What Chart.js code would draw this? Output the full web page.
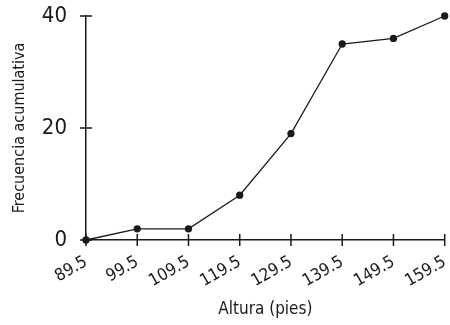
<!DOCTYPE html>
<html>
<head>
<meta charset="utf-8">
<script src="https://cdn.jsdelivr.net/npm/chart.js@4/dist/chart.umd.min.js"></script>
<style>
  html, body { margin: 0; padding: 0; background: #fff; }
  #wrap { width: 450px; height: 325px; }
</style>
</head>
<body>
<div id="wrap"><canvas id="c" width="450" height="325"></canvas></div>
<script>
const classBoundaries = [89.5, 99.5, 109.5, 119.5, 129.5, 139.5, 149.5, 159.5];
const cumulativeFrequency = [0, 2, 2, 8, 19, 35, 36, 40];
const yTickValues = [0, 20, 40];

const FONT = '"Liberation Sans Narrow", "DejaVu Sans Condensed", "Roboto", sans-serif';
const INK = '#1a1a1a';

const crossTicks = {
  id: 'crossTicks',
  afterDraw(chart) {
    const ctx = chart.ctx;
    const xs = chart.scales.x, ys = chart.scales.y;
    const L = 6;
    ctx.save();
    ctx.strokeStyle = INK;
    ctx.lineWidth = 1.5;
    ctx.beginPath();
    classBoundaries.forEach(v => {
      const px = xs.getPixelForValue(v);
      ctx.moveTo(px, ys.bottom - L);
      ctx.lineTo(px, ys.bottom + L);
    });
    yTickValues.forEach(v => {
      const py = ys.getPixelForValue(v);
      ctx.moveTo(xs.left - L, py);
      ctx.lineTo(xs.left + L, py);
    });
    ctx.stroke();
    ctx.restore();
  }
};

function noPad(s) { s.paddingTop = 0; s.paddingBottom = 0; s.paddingLeft = 0; s.paddingRight = 0; }

new Chart(document.getElementById('c'), {
  type: 'line',
  data: {
    datasets: [{
      data: classBoundaries.map((x, i) => ({ x: x, y: cumulativeFrequency[i] })),
      borderColor: INK,
      borderWidth: 1.3,
      pointRadius: 3,
      pointBackgroundColor: INK,
      pointBorderColor: INK,
      tension: 0,
      clip: false
    }]
  },
  options: {
    responsive: false,
    animation: false,
    events: [],
    layout: { padding: { top: 16, right: 4, left: 0, bottom: 0 } },
    plugins: { legend: { display: false }, tooltip: { enabled: false } },
    scales: {
      x: {
        type: 'linear',
        min: 89.5,
        max: 159.5,
        afterBuildTicks: s => { s.ticks = classBoundaries.map(v => ({ value: v })); },
        afterFit: s => { s.height = 85; noPad(s); },
        grid: { display: false },
        border: { display: true, color: INK, width: 1.5 },
        ticks: {
          color: INK,
          font: { family: FONT, size: 17 },
          minRotation: 30,
          maxRotation: 30,
          padding: 4,
          autoSkip: false,
          callback: v => v.toFixed(1)
        },
        title: {
          display: true,
          text: 'Altura (pies)',
          color: INK,
          font: { family: FONT, size: 17 },
          padding: { top: 0, bottom: 5 }
        }
      },
      y: {
        type: 'linear',
        min: 0,
        max: 40,
        afterBuildTicks: s => { s.ticks = yTickValues.map(v => ({ value: v })); },
        afterFit: s => { s.width = 86; noPad(s); },
        grid: { display: false },
        border: { display: true, color: INK, width: 1.5 },
        ticks: {
          color: INK,
          font: { family: FONT, size: 22 },
          padding: 11
        },
        title: {
          display: true,
          text: 'Frecuencia acumulativa',
          color: INK,
          font: { family: FONT, size: 16 },
          padding: { top: 10, bottom: 0 }
        }
      }
    }
  },
  plugins: [crossTicks]
});
</script>
</body>
</html>
